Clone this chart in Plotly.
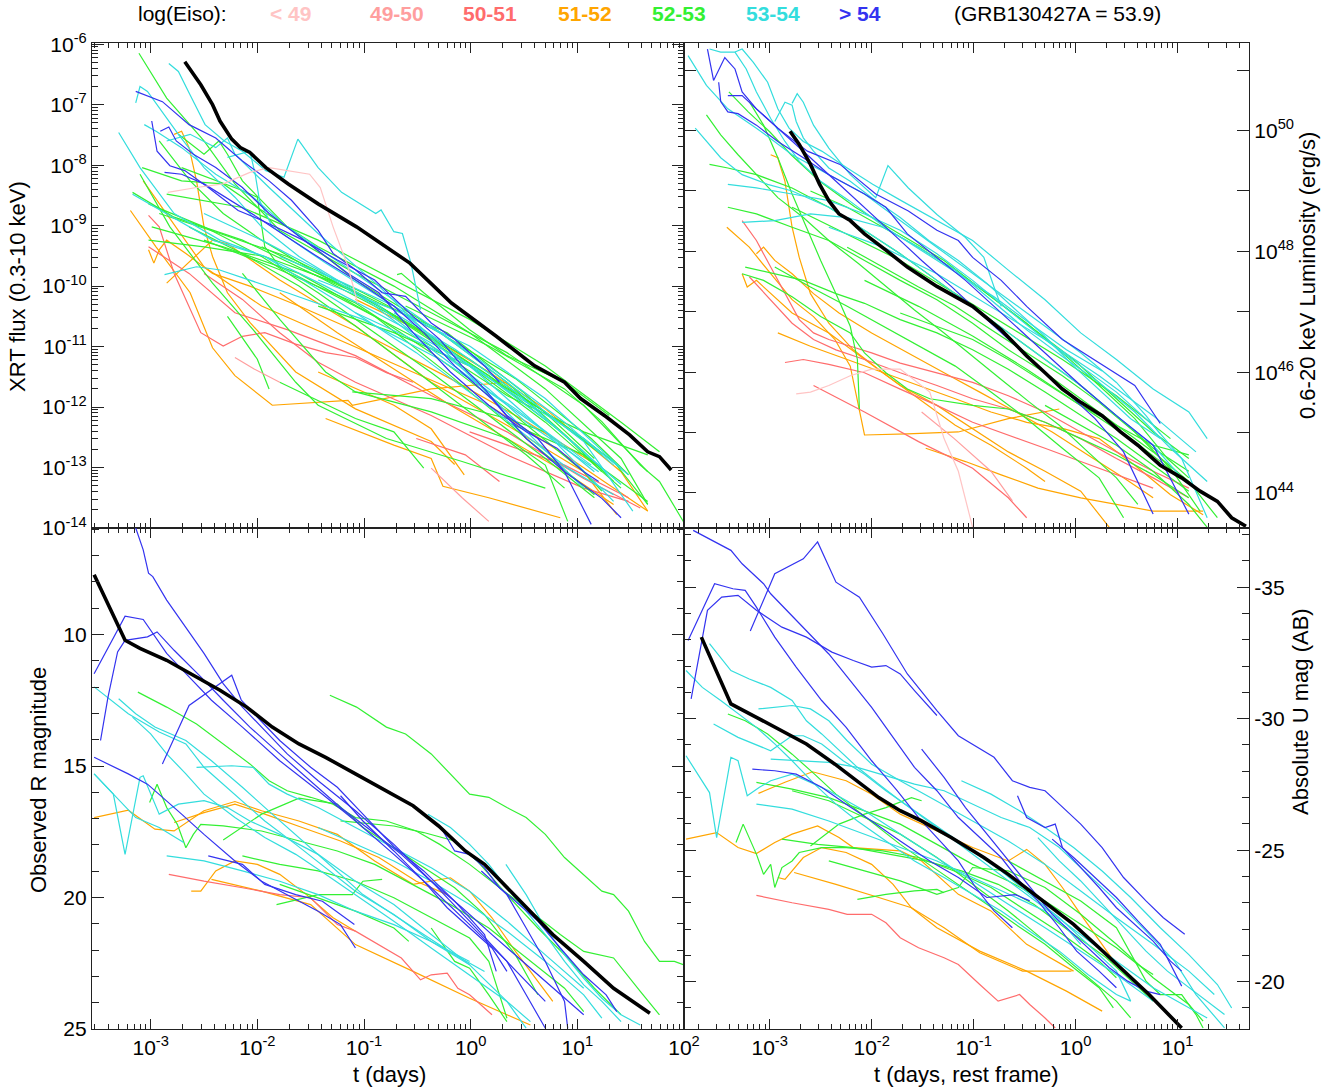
import plotly.graph_objects as go

# ================= DATA (log10 t in days; flux/lum in log10; mags linear) =================
# ---------- Top-left: XRT flux vs observed time ----------
TL_black = ([-2.68,-2.53,-2.42,-2.35,-2.24,-2.16,-2.07,-1.92,-1.71,-1.43,-1.07,-0.57,-0.18,0.24,0.60,0.88,1.03,1.27,1.49,1.66,1.77,1.88],
            [-6.29,-6.67,-7.00,-7.27,-7.57,-7.71,-7.79,-8.04,-8.31,-8.64,-9.02,-9.62,-10.28,-10.83,-11.32,-11.59,-11.86,-12.16,-12.46,-12.74,-12.82,-13.04])
TL_blue = [
 ([-3.14,-2.89,-2.64,-2.39,-2.14,-1.89,-1.68,-1.43,-1.29,-1.08,-0.83,-0.61,-0.37,-0.15,0.13,0.27],
  [-6.78,-6.95,-7.33,-7.55,-7.93,-8.26,-8.58,-9.08,-9.46,-9.73,-10.11,-10.17,-10.61,-10.88,-11.32,-11.59]),
 ([-2.99,-2.94,-2.82,-2.68,-2.46,-2.18,-1.96,-1.57,-1.25,-0.90,-0.54,-0.29,-0.08,0.13,0.34,0.63,0.88,1.13],
  [-7.27,-7.77,-8.01,-8.09,-8.37,-8.75,-8.91,-9.24,-9.57,-9.90,-10.50,-10.88,-11.32,-11.70,-12.14,-12.52,-13.07,-13.94]),
 ([-2.91,-2.83,-2.76,-2.60,-2.39,-2.14,-1.89,-1.64,-1.40,-1.15,-0.86,-0.54,-0.19,0.17,0.52,0.81,1.06,1.20],
  [-7.44,-7.37,-7.60,-7.82,-8.04,-8.37,-8.80,-9.13,-9.46,-9.79,-10.11,-10.77,-11.42,-11.97,-12.41,-12.68,-13.07,-13.23]),
 ([-2.87,-2.71,-2.50,-2.25,-2.00,-1.72,-1.43,-1.08,-0.72,-0.44,-0.15,0.20,0.52,0.88,1.23,1.41],
  [-8.12,-8.15,-8.31,-8.58,-8.86,-9.19,-9.52,-9.90,-10.33,-10.77,-11.32,-11.87,-12.52,-13.07,-13.51,-13.83]),
]
TL_lt49 = [
 ([-2.84,-2.57,-2.32,-2.07,-1.89,-1.71,-1.51,-1.41,-1.29,-1.15,-1.06],
  [-8.45,-8.37,-8.31,-8.12,-8.04,-8.09,-8.15,-8.37,-9.02,-9.68,-10.28]),
]
TL_4950 = [
 ([-2.21,-2.03,-1.79],[-11.18,-11.37,-11.59]),
 ([-0.37,-0.08,0.17],[-13.01,-13.50,-13.89]),
]
TL_5051 = [
 ([-3.02,-2.92,-2.78,-2.64,-2.53,-2.32,-2.14,-1.93,-1.64,-1.36,-1.08,-0.79,-0.54],
  [-8.83,-9.02,-9.79,-10.33,-10.77,-10.99,-10.83,-10.77,-10.96,-11.10,-11.18,-11.43,-11.59]),
 ([-3.02,-2.64,-2.21,-1.72,-1.08,-0.37,0.34,1.06,1.59],
  [-9.35,-9.79,-10.44,-10.72,-11.15,-11.81,-12.41,-13.18,-13.67]),
 ([-2.50,-2.14,-1.79,-1.43,-1.08,-0.37,0.34,1.06,1.48],
  [-9.79,-10.22,-10.77,-11.26,-11.59,-12.14,-12.79,-13.34,-13.56]),
 ([-0.51,-0.05,0.27],[-12.52,-12.79,-13.23]),
 ([-0.01,0.88,1.48],[-12.41,-12.96,-13.50]),
]
TL_5152 = [
 ([-3.19,-2.95,-2.63,-2.42,-2.21,-1.86,-1.15,-1.11,-0.37,0.34],
  [-8.75,-9.35,-10.11,-11.02,-11.48,-11.97,-11.89,-11.97,-11.70,-11.59]),
 ([-3.07,-2.85,-2.50,-1.96,-1.25,-0.54,0.17,0.88,1.66],
  [-8.26,-8.80,-9.68,-10.33,-10.88,-11.42,-11.97,-12.79,-13.72]),
 ([-2.85,-2.56,-2.42,-2.28,-1.79,-1.08,-0.37,0.34,1.06,1.37],
  [-9.95,-9.46,-9.24,-9.30,-9.90,-10.66,-11.59,-12.30,-13.07,-13.78]),
 ([-2.78,-2.71,-2.64,-2.57,-2.50,-2.42,-2.28,-2.07,-1.64,-1.08,-0.37,-0.15],
  [-7.49,-7.44,-7.71,-8.26,-9.02,-9.51,-10.11,-10.60,-11.42,-12.03,-12.57,-12.95]),
 ([-3.02,-2.97,-2.92,-2.85,-2.67,-2.42,-2.07,-1.61,-0.90,-0.19,0.52,1.23],
  [-9.40,-9.62,-9.40,-9.24,-9.46,-9.79,-10.00,-10.33,-10.88,-11.53,-12.24,-13.01]),
 ([-1.36,-0.72,-0.37,-0.26,0.17,0.84],[-12.19,-12.63,-12.85,-13.31,-13.50,-13.83]),
 ([-1.08,-0.44,0.17,0.70,1.41,1.66],[-10.22,-10.77,-11.42,-12.03,-13.07,-13.72]),
 ([-1.43,-0.72,-0.37,-0.06],[-11.42,-11.97,-12.36,-13.12]),
 ([-1.79,-1.25,-0.72,-0.19,0.34,0.88,1.34],[-10.11,-10.77,-11.37,-11.97,-12.52,-13.07,-13.61]),
]
TL_5253 = [
 ([-3.11,-2.85,-2.50,-2.21,-1.79,-1.08,-0.37,0.34,1.06,1.66],[-6.15,-6.89,-7.60,-8.31,-9.08,-9.79,-10.44,-11.10,-11.97,-13.07]),
 ([-0.69,-0.65,-0.44,-0.01,0.34,0.88,1.30],[-9.81,-9.79,-10.11,-10.72,-11.15,-11.59,-12.14]),
 ([-0.61,0.17,0.88,1.23,1.59,1.77,2.01],[-10.33,-10.99,-11.70,-12.24,-12.96,-13.23,-13.94]),
 ([-3.08,-2.71,-2.32,-2.00,-1.43,-0.72,-0.01,0.70,1.41,1.66],[-8.04,-8.26,-8.31,-8.70,-9.35,-10.00,-10.77,-11.70,-12.85,-13.61]),
 ([-3.17,-2.78,-2.14,-1.43,-0.72,-0.01,0.70,1.41],[-8.45,-8.86,-9.24,-9.84,-10.50,-11.32,-12.25,-13.34]),
 ([-3.02,-2.50,-1.93,-1.25,-0.54,0.17,0.88,1.23],[-9.24,-9.35,-9.51,-9.95,-10.66,-11.48,-12.46,-13.07]),
 ([-3.10,-2.82,-2.42,-2.04,-1.64,-1.43,-0.79,-0.08,0.70],[-8.15,-9.02,-9.95,-10.72,-11.59,-11.97,-12.52,-12.90,-13.34]),
 ([-2.28,-2.00,-1.89],[-10.50,-11.21,-11.70]),
 ([-2.85,-2.14,-1.43,-0.72,-0.01,0.70,1.41,1.77],[-8.48,-8.70,-9.24,-9.90,-10.55,-11.32,-12.25,-12.74]),
 ([-2.74,-2.50,-2.36,-2.28,-2.14,-1.72,-1.08,-0.37,0.34,1.06,1.34],[-7.49,-7.82,-7.60,-7.82,-8.26,-9.02,-9.90,-10.66,-11.59,-12.74,-13.23]),
 ([-2.99,-2.32,-1.61,-0.90,-0.19,0.52,1.16],[-9.02,-9.35,-9.79,-10.50,-11.48,-12.52,-13.45]),
 ([-1.79,-1.08,-0.72,-0.44],[-11.59,-12.19,-12.41,-13.01]),
 ([-2.14,-1.79,-1.36,-1.08,-0.37,0.34,0.70,0.91],[-9.79,-10.55,-11.42,-11.75,-12.08,-12.52,-12.96,-13.89]),
 ([-2.71,-2.14,-2.00,-1.93,-1.79,-1.08,-0.37,0.34,1.06,1.66],[-8.04,-8.42,-8.53,-9.35,-9.68,-10.33,-10.99,-11.81,-12.41,-12.79]),
 ([-1.11,-0.37,0.34,0.70],[-11.75,-11.86,-12.19,-12.41]),
 ([0.34,1.06,1.66],[-12.25,-12.79,-13.56]),
 ([-2.50,-1.79,-1.08,-0.37,0.34,1.06,1.23],[-9.24,-9.73,-10.28,-11.10,-12.03,-13.07,-13.39]),
 ([-2.92,-2.35,-1.72,-1.01,-0.29,0.42,1.13,1.48],[-8.80,-9.13,-9.51,-10.11,-10.77,-11.53,-12.52,-13.12]),
 ([-1.43,-0.72,-0.01,0.70,1.34,1.66],[-10.33,-10.77,-11.32,-12.08,-12.90,-13.61]),
 ([-2.92,-2.63,-2.32,-1.96,-1.43,-0.86,-0.22,0.49,1.16],[-7.60,-8.26,-8.80,-9.24,-9.79,-10.28,-10.77,-11.75,-12.85]),
 ([-1.57,-1.08,-0.54,-0.01,0.52,1.06,1.41],[-9.73,-10.11,-10.66,-11.21,-11.87,-12.52,-13.01]),
 ([-1.96,-1.43,-0.90,-0.37,0.17,0.70,1.23],[-9.35,-9.79,-10.28,-10.88,-11.48,-12.08,-12.79]),
 ([-2.64,-2.14,-1.61,-1.08,-0.54,-0.01,0.52,0.88],[-9.02,-9.46,-10.00,-10.66,-11.37,-12.08,-12.79,-13.34]),
 ([-3.02,-2.50,-1.96,-1.43,-0.90,-0.37,0.17,0.70,1.16],[-8.64,-9.02,-9.51,-10.11,-10.77,-11.43,-12.14,-12.85,-13.50]),
]
TL_5354 = [
 ([-2.83,-2.74,-2.63,-2.49,-2.31,-2.14,-1.92,-1.75,-1.62,-1.43,-1.21,-1.04,-0.89,-0.84,-0.72,-0.64,-0.56,-0.47],
  [-6.32,-6.45,-6.84,-7.33,-7.60,-7.77,-8.09,-8.20,-7.57,-8.04,-8.45,-8.64,-8.80,-8.74,-9.10,-9.13,-9.62,-10.39]),
 ([-3.14,-3.10,-3.03,-2.92,-2.74,-2.50,-2.21,-1.96,-1.61,-1.25,-0.86,-0.54,-0.19,0.17,0.52,0.88,1.20],
  [-6.97,-6.70,-6.78,-7.05,-7.49,-8.04,-8.53,-9.02,-9.51,-9.90,-10.33,-10.77,-11.21,-11.70,-12.25,-12.68,-13.07]),
 ([-3.30,-3.10,-2.78,-2.35,-1.93,-1.22,-0.51,0.20,0.91,1.34],[-7.46,-8.04,-8.80,-9.24,-9.51,-10.28,-11.10,-12.03,-13.01,-13.45]),
 ([-3.06,-2.95,-2.71,-2.39,-2.04,-1.72,-1.08,-0.37,0.34,1.06,1.52],[-7.33,-7.44,-7.71,-8.15,-8.53,-9.02,-9.79,-10.66,-11.59,-12.57,-13.72]),
 ([-3.17,-2.85,-2.42,-1.93,-1.36,-0.65,0.06,0.77,1.41],[-8.48,-8.80,-9.24,-9.51,-10.00,-10.66,-11.37,-12.30,-13.28]),
 ([-2.87,-2.57,-2.36,-1.72,-1.01,-0.29,0.42,1.13],[-9.81,-9.68,-9.73,-10.11,-10.55,-11.21,-12.03,-12.96]),
 ([-2.28,-2.07,-2.02,-1.98,-1.86,-1.36,-0.72,-0.01,0.70,1.34],[-7.87,-7.77,-8.15,-8.58,-9.02,-9.62,-10.33,-11.32,-12.41,-13.56]),
 ([-2.85,-2.63,-2.39,-2.28,-2.21,-1.89,-1.43,-0.86,-0.29,0.27,0.84,1.06],[-7.60,-7.49,-7.71,-7.55,-7.82,-8.37,-9.13,-10.00,-10.99,-11.97,-12.96,-13.34]),
 ([-0.72,-0.15,0.42,0.98,1.27],[-10.44,-11.04,-11.75,-12.63,-13.07]),
 ([-1.43,-0.72,-0.01,0.70,1.41],[-9.90,-10.39,-10.99,-11.86,-13.01]),
 ([-1.79,-1.25,-0.72,-0.19,0.34,0.88,1.34],[-9.51,-9.90,-10.33,-10.88,-11.54,-12.25,-12.96]),
 ([-1.08,-0.54,-0.01,0.52,1.06,1.48],[-10.44,-10.88,-11.32,-11.92,-12.52,-13.12]),
 ([-2.50,-1.96,-1.43,-0.90,-0.37,0.17,0.70,1.16],[-8.80,-9.24,-9.73,-10.33,-11.04,-11.75,-12.41,-13.07]),
]

# ---------- Top-right: luminosity vs rest-frame time ----------
TR_black = ([-2.80,-2.71,-2.60,-2.51,-2.42,-2.32,-2.21,-2.07,-1.86,-1.65,-1.36,-1.01,-0.73,-0.48,-0.30,-0.13,0.05,0.26,0.44,0.61,0.83,1.04,1.22,1.39,1.53,1.67],
            [49.99,49.77,49.44,49.11,48.84,48.62,48.51,48.29,48.02,47.74,47.42,47.09,46.70,46.27,45.99,45.72,45.50,45.28,45.01,44.79,44.46,44.25,44.03,43.86,43.59,43.45])
TR_blue = [
 ([-3.61,-3.55,-3.44,-3.34,-3.27,-3.13,-2.92,-2.63,-2.31,-1.96,-1.64,-1.36,-1.15,-1.01,-0.73,-0.48,-0.13,0.23,0.58,0.83],
  [51.35,50.83,51.21,51.02,50.64,50.36,50.04,49.66,49.44,48.95,48.67,48.35,48.18,47.90,47.52,47.09,46.54,46.15,45.78,45.15]),
 ([-3.50,-3.48,-3.41,-3.31,-3.13,-2.92,-2.67,-2.42,-2.07,-1.86,-1.65,-1.36,-1.08,-0.80,-0.52,-0.23,0.05,0.40,0.76,1.11],
  [50.80,50.48,50.31,50.28,50.09,49.82,49.55,49.27,48.95,48.73,48.29,47.90,47.52,47.09,46.65,46.21,45.78,45.28,44.79,43.65]),
 ([-3.41,-3.27,-3.13,-2.95,-2.78,-2.60,-2.35,-2.07,-1.79,-1.51,-1.22,-0.94,-0.66,-0.37,-0.09,0.19,0.47,0.76],
  [50.58,50.58,50.36,50.09,49.82,49.55,49.16,48.73,48.29,47.85,47.42,46.98,46.54,46.10,45.67,45.23,44.68,43.65]),
]
TR_lt49 = [
 ([-2.74,-2.60,-2.42,-2.21,-2.00,-1.72,-1.43,-1.29,-1.15,-1.01],[45.64,45.67,45.78,45.94,46.05,46.05,45.67,44.90,44.36,43.43]),
]
TR_4950 = [
 ([-1.51,-1.19,-0.83,-0.62],[45.34,44.90,44.36,43.87]),
]
TR_5051 = [
 ([-3.27,-3.13,-2.99,-2.85,-2.71,-2.57,-2.42,-2.21,-2.00,-1.72,-1.36,-1.01,-0.66,-0.30,0.05,0.40,0.76,1.11],
  [48.51,48.18,47.74,47.30,46.87,46.65,46.54,46.43,46.32,46.15,45.99,45.83,45.61,45.34,45.01,44.68,44.36,44.08]),
 ([-3.20,-2.99,-2.78,-2.57,-2.35,-2.07,-1.72,-1.36,-1.01,-0.66,-0.30,0.05,0.40,0.76,1.11],
  [47.58,47.20,46.81,46.54,46.37,46.21,45.99,45.78,45.56,45.39,45.17,44.90,44.57,44.25,43.92]),
 ([-2.85,-2.67,-2.42,-2.07,-1.72,-1.36,-1.01,-0.66,-0.30,0.05,0.40,0.76],
  [46.16,46.21,46.13,45.99,45.72,45.45,45.17,44.96,44.74,44.52,44.30,44.08]),
 ([-2.57,-2.07,-1.54,-1.01,-0.66,-0.48],[45.78,45.34,44.85,44.41,43.92,43.59]),
]
TR_5152 = [
 ([-3.42,-3.20,-2.99,-2.78,-2.57,-2.36,-2.21,-2.07,-1.65,-1.15,-0.66,-0.16],
  [48.40,48.07,47.63,47.20,46.92,46.54,46.10,44.96,44.98,45.01,45.23,45.39]),
 ([-2.99,-2.92,-2.85,-2.78,-2.71,-2.60,-2.42,-2.18,-1.89,-1.54,-1.18,-0.83,-0.48,-0.30],
  [49.60,49.55,49.16,48.40,47.90,47.30,46.81,46.37,45.99,45.56,45.12,44.79,44.41,44.19]),
 ([-3.13,-3.06,-2.95,-2.78,-2.57,-2.32,-2.00,-1.65,-1.29,-0.94,-0.59,-0.23,0.12,0.47,0.76],
  [47.96,48.07,47.85,47.63,47.30,46.98,46.65,46.32,45.99,45.67,45.34,45.01,44.63,44.25,43.92]),
 ([-3.27,-3.22,-3.13,-2.99,-2.78,-2.42,-2.07,-1.72,-1.36,-1.01,-0.66,-0.30,0.05,0.33],
  [47.63,47.41,47.52,47.30,46.98,46.65,46.21,45.78,45.45,45.07,44.68,44.36,44.03,43.43]),
 ([-1.47,-1.08,-0.73,-0.37,0.05,0.40,0.76,1.25],[44.74,44.52,44.30,44.08,43.92,43.81,43.70,43.70]),
 ([-2.92,-2.60,-2.24,-1.89,-1.54,-1.18,-0.83,-0.48,-0.13,0.23,0.58,0.93,1.25],
  [46.65,46.43,46.21,45.99,45.78,45.56,45.34,45.17,45.07,44.90,44.46,43.97,43.64]),
]
TR_5253 = [
 ([-3.40,-3.21,-3.00,-2.79,-2.51,-2.16,-1.73,-1.29,-0.87,-0.45,-0.02,0.40,0.76,1.11],
  [50.64,50.31,49.98,49.60,49.16,48.73,48.29,47.85,47.30,46.76,46.21,45.56,45.01,44.57]),
 ([-3.59,-3.41,-3.13,-2.78,-2.42,-2.07,-1.72,-1.36,-1.01,-0.66,-0.30,0.05,0.40,0.76,1.11],
  [49.44,49.38,49.27,49.05,48.73,48.35,47.96,47.52,47.09,46.65,46.21,45.78,45.28,44.74,44.36]),
 ([-3.62,-3.48,-3.31,-3.13,-2.92,-2.67,-2.42,-2.13,-1.85,-1.58,-1.29,-1.01,-0.73,-0.45,-0.16,0.12,0.40,0.61],
  [50.26,49.93,49.60,49.27,48.89,48.56,48.18,47.80,47.41,47.03,46.65,46.26,45.88,45.50,45.12,44.68,44.25,43.81]),
 ([-3.41,-3.13,-2.78,-2.42,-2.07,-1.72,-1.36,-1.01,-0.66,-0.30,0.05,0.40,0.76,1.11,1.39],
  [48.73,48.62,48.40,48.18,47.85,47.52,47.20,46.81,46.37,45.99,45.56,45.12,44.68,44.19,43.59]),
 ([-3.24,-2.95,-2.67,-2.35,-2.07,-1.72,-1.36,-1.01,-0.66,-0.30,0.05,0.40,0.76,1.11],
  [47.74,47.63,47.52,47.30,47.14,46.87,46.65,46.37,46.05,45.67,45.28,44.90,44.46,44.03]),
 ([-3.27,-3.06,-2.78,-2.50,-2.21,-2.07,-1.86,-1.65,-1.43,-1.01,-0.66,-0.30,0.05,0.40,0.76,1.11],
  [47.63,47.52,47.25,46.92,46.65,46.32,45.99,45.72,45.56,45.45,45.39,45.17,44.90,44.63,44.30,43.92]),
 ([-3.20,-3.06,-2.92,-2.78,-2.64,-2.50,-2.35,-2.21,-2.14,-2.12],
  [50.48,50.09,49.55,48.95,48.40,47.85,47.30,46.76,46.21,45.39]),
 ([-1.72,-1.36,-1.01,-0.66,-0.30,0.05,0.40,0.76,1.11],[46.98,46.76,46.54,46.21,45.83,45.45,45.12,44.79,44.63]),
 ([-2.95,-2.60,-2.24,-1.89,-1.54,-1.18,-0.83,-0.48,-0.13,0.23,0.47],[47.74,47.41,47.09,46.76,46.43,46.10,45.67,45.23,44.74,44.25,43.59]),
 ([-2.24,-1.89,-1.54,-1.18,-0.83,-0.48,-0.13,0.23,0.58,0.93,1.22],[48.07,47.74,47.41,47.09,46.70,46.32,45.94,45.50,45.01,44.41,43.70]),
 ([-2.60,-2.24,-1.89,-1.54,-1.18,-0.83,-0.48,-0.13,0.23,0.58,0.90,1.11],[49.00,48.73,48.40,48.07,47.69,47.25,46.81,46.32,45.78,45.23,44.57,44.25]),
 ([-0.30,0.05,0.40,0.76,1.11,1.29],[45.45,45.12,44.79,44.36,43.81,43.43]),
 ([-2.78,-2.25,-1.72,-1.19,-0.66,-0.13,0.40,0.93],[48.73,48.29,47.85,47.31,46.76,46.21,45.61,44.90]),
 ([-2.07,-1.54,-1.01,-0.48,0.05,0.58,1.04],[47.52,47.09,46.60,46.05,45.45,44.85,44.25]),
]
TR_5354 = [
 ([-2.78,-2.73,-2.67,-2.57,-2.42,-2.21,-1.96,-1.84,-1.64,-1.36,-1.08,-0.90,-0.80,-0.73],
  [50.45,50.61,50.47,50.09,49.71,49.27,48.89,49.42,49.05,48.61,48.23,47.90,47.41,47.09]),
 ([-3.59,-3.48,-3.34,-3.23,-3.13,-2.99,-2.85,-2.71,-2.50,-2.22,-1.87,-1.51,-1.15,-0.80,-0.45,-0.09,0.26],
  [51.35,51.30,51.30,51.02,50.64,50.20,49.82,49.49,49.16,48.84,48.40,48.01,47.63,47.25,46.81,46.37,46.02]),
 ([-3.80,-3.62,-3.41,-3.13,-2.78,-2.42,-2.07,-1.72,-1.36,-1.01,-0.66,-0.30,0.05,0.40,0.69,0.83],
  [51.24,50.75,50.36,50.04,49.60,49.27,48.95,48.51,48.07,47.63,47.20,46.76,46.32,45.83,45.28,44.98]),
 ([-3.34,-3.27,-3.16,-3.02,-2.92,-2.81,-2.67,-2.49,-2.24,-1.99,-1.71,-1.36,-1.01,-0.66,-0.30,0.05,0.40,0.76,1.11,1.29],
  [51.30,51.35,51.13,50.80,50.36,50.04,49.82,49.66,49.38,49.11,48.84,48.51,48.18,47.69,47.20,46.65,46.21,45.72,45.34,44.90]),
 ([-3.41,-3.13,-2.78,-2.42,-2.07,-1.72,-1.36,-1.01,-0.66,-0.30,0.05,0.40,0.76,1.04,1.29],
  [49.11,49.05,48.95,48.84,48.62,48.35,47.96,47.52,47.03,46.54,46.10,45.67,45.12,44.57,43.59]),
 ([-3.27,-2.95,-2.60,-2.24,-1.89,-1.54,-1.18,-0.83,-0.48,-0.13,0.23,0.58,0.93,1.29],
  [48.48,48.51,48.62,48.56,48.40,48.07,47.69,47.20,46.70,46.26,45.83,45.34,44.74,44.19]),
 ([-3.73,-3.62,-3.48,-3.27,-3.02,-2.78,-2.42,-2.07,-1.72,-1.36,-1.01,-0.66,-0.30,0.05,0.40,0.76,1.04],
  [50.04,49.82,49.55,49.27,49.11,49.00,48.73,48.35,47.96,47.52,47.09,46.65,46.21,45.78,45.28,44.79,44.25]),
 ([-2.95,-2.85,-2.78,-2.74,-2.67,-2.57,-2.42,-2.21,-2.00,-1.72,-1.44,-1.15,-0.87,-0.59,-0.30,-0.02,0.26,0.54,0.83],
  [50.15,50.47,50.42,50.15,49.88,49.66,49.38,49.16,48.89,48.56,48.18,47.85,47.47,47.03,46.59,46.10,45.67,45.23,44.90]),
 ([-2.42,-1.89,-1.36,-0.83,-0.30,0.23,0.76,1.18],[48.40,48.07,47.63,47.09,46.54,45.94,45.28,44.68]),
]

# ---------- Bottom-left: observed R magnitude vs observed time ----------
BL_black = ([-3.53,-3.39,-3.24,-3.10,-2.85,-2.60,-2.35,-2.10,-1.86,-1.61,-1.36,-1.08,-0.79,-0.54,-0.30,-0.05,0.13,0.34,0.56,0.77,1.06,1.34,1.68],
            [7.73,8.94,10.22,10.53,10.98,11.55,12.12,12.76,13.52,14.16,14.67,15.30,15.94,16.51,17.28,18.23,18.74,19.63,20.52,21.41,22.43,23.45,24.40])
BL_blue = [
 ([-3.14,-3.07,-3.02,-2.98,-2.85,-2.67,-2.50,-2.32,-2.14,-1.96,-1.72,-1.43,-1.08,-0.72,-0.37,-0.01,0.34,0.52,0.70],
  [5.95,6.78,7.67,7.80,8.69,9.71,10.72,11.87,12.76,13.52,14.54,15.56,16.70,17.98,19.38,20.90,22.43,23.70,24.97]),
 ([-3.53,-3.24,-3.07,-2.85,-2.64,-2.43,-2.14,-1.79,-1.43,-1.08,-0.72,-0.37,-0.01,0.34,0.70],
  [11.49,9.30,9.43,10.72,11.61,12.50,13.52,14.80,15.94,17.09,18.36,19.63,21.03,22.43,23.95]),
 ([-3.47,-3.40,-3.31,-3.24,-3.03,-2.94,-2.78,-2.53,-2.32,-2.07,-1.79,-1.51,-1.22,-0.93,-0.65,-0.37,-0.08,0.20,0.49,0.77,1.06],
  [14.03,12.38,10.66,10.22,10.09,9.90,10.60,11.61,12.50,13.52,14.54,15.56,16.58,17.47,18.36,19.38,20.39,21.41,22.43,23.45,24.46]),
 ([-2.89,-2.64,-2.24,-2.15,-1.97,-1.79,-1.50,-1.25,-1.01,-0.72,-0.44,-0.15,0.13,0.24],
  [14.92,12.70,11.55,12.50,13.27,14.03,15.05,15.81,16.83,18.07,18.99,20.14,21.41,22.81]),
 ([-3.53,-3.21,-3.03,-2.85,-2.71,-2.50,-2.21,-1.96,-1.72,-1.43,-1.22,-1.08],
  [14.67,15.30,15.69,16.32,16.83,17.60,18.61,19.38,19.89,20.52,21.03,21.92]),
 ([-2.46,-2.14,-1.93,-1.64,-1.39,-1.09],[18.42,18.74,19.50,19.89,20.14,21.03]),
 ([-1.22,-1.01,-0.72,-0.44,-0.22,-0.01,0.20,0.34],[16.13,17.09,18.23,19.38,20.39,21.16,21.92,22.81]),
 ([-0.26,-0.15,-0.01,0.13,0.27,0.42,0.63,0.84,1.06,1.27,1.37],[17.47,18.23,18.36,18.87,19.63,20.14,20.90,21.92,22.94,23.70,24.34]),
 ([0.10,0.34,0.52,0.70,0.88,0.91],[18.99,19.89,21.16,22.43,23.95,24.97]),
]
BL_5051 = [
 ([-2.83,-2.50,-2.14,-1.79,-1.50,-1.25,-1.08,-0.86,-0.65,-0.47,-0.37,-0.22,-0.12,-0.01,0.20],
  [19.12,19.38,19.63,19.89,20.01,21.03,21.28,21.79,22.30,23.13,22.94,22.88,23.45,23.70,24.46]),
]
BL_5152 = [
 ([-3.53,-3.21,-2.96,-2.78,-2.50,-2.21,-1.96,-1.61,-1.25,-0.90,-0.54,-0.19,-0.01,0.20,0.42,0.77],
  [16.96,16.68,17.40,17.47,16.70,16.35,16.70,17.09,17.60,18.61,19.50,19.25,19.76,20.77,22.05,23.95]),
 ([-2.78,-2.50,-2.21,-1.93,-1.58,-1.22,-0.86,-0.51,-0.22],[17.15,16.77,16.45,16.83,17.34,17.85,18.48,19.38,19.89]),
 ([-2.62,-2.53,-2.39,-2.21,-2.00,-1.79,-1.54,-1.29,-1.08],[19.76,19.76,18.99,18.61,18.74,19.12,19.89,20.77,21.28]),
 ([-2.43,-1.96,-1.50,-1.08,-0.54,-0.01,0.56],[19.31,19.76,20.27,21.79,22.81,23.83,24.85]),
]
BL_5253 = [
 ([-1.32,-1.07,-0.79,-0.61,-0.37,-0.19,-0.01,0.17,0.34,0.52,0.70,0.88,1.06,1.23,1.34,1.48,1.63,1.77,1.91,2.0],
  [12.31,12.76,13.52,13.78,14.54,15.30,16.07,16.19,16.58,16.96,17.60,18.48,19.12,19.76,19.89,20.52,21.67,22.43,22.43,22.56]),
 ([-3.12,-2.85,-2.57,-2.32,-2.07,-1.89,-1.72,-1.50,-1.29,-1.08,-0.79,-0.51,-0.29,-0.01,0.27,0.56,0.84,1.06,1.34,1.59,1.77],
  [12.19,12.76,13.40,14.16,14.92,15.56,15.94,16.19,16.45,16.96,17.09,17.47,17.98,18.74,19.63,20.52,21.41,22.05,22.30,23.57,24.46]),
 ([-3.01,-2.94,-2.85,-2.75,-2.67,-2.60,-2.53,-2.32,-1.96,-1.61,-1.25,-0.90,-0.54,-0.19,0.17,0.52,0.88,1.06],
  [16.39,15.69,16.58,17.22,18.11,17.60,17.22,17.28,17.47,17.85,18.23,18.74,19.50,20.27,21.16,22.30,23.45,24.34]),
 ([-2.32,-1.96,-1.61,-1.25,-1.01,-0.72,-0.44,-0.15,0.13,0.42,0.63],
  [17.81,16.83,16.22,16.45,17.34,18.11,18.87,19.63,20.65,22.18,23.70]),
 ([-2.14,-1.79,-1.43,-1.08,-0.72,-0.37,-0.01,0.17,0.34],[18.42,18.74,18.99,19.38,20.01,20.77,21.54,22.43,24.59]),
 ([-1.82,-1.43,-1.11,-1.01,-0.83],[20.27,19.89,19.89,19.38,19.31]),
 ([-1.22,-0.72,-0.44,-0.15,0.06,0.34,0.63,0.91,1.16,1.41],[17.09,17.28,17.53,17.85,18.61,19.89,21.16,22.30,23.45,24.46]),
 ([-1.79,-1.43,-1.08,-0.72,-0.58],[19.50,20.01,20.52,21.16,21.67]),
 ([-0.37,-0.15,-0.01,0.17,0.34],[21.16,22.43,22.69,23.70,24.72]),
]
BL_5354 = [
 ([-3.53,-3.21,-2.92,-2.67,-2.50,-2.21,-1.93,-1.64,-1.36,-1.08,-0.72,-0.37,-0.01],
  [11.99,13.01,13.71,14.16,15.05,16.07,17.09,17.98,18.87,19.76,20.65,21.67,22.56]),
 ([-3.30,-3.14,-2.96,-2.67,-2.43,-2.14,-1.86,-1.57,-1.29,-1.01,-0.72,-0.44,-0.15,0.13],
  [12.44,13.01,13.52,14.03,14.80,15.81,16.83,17.85,18.87,19.89,20.65,21.41,22.18,22.81]),
 ([-3.17,-3.00,-2.85,-2.67,-2.50,-2.21,-1.93,-1.64,-1.36,-1.08,-0.72,-0.37,-0.01,0.34,0.56],
  [13.14,13.78,14.54,15.30,16.07,16.96,17.72,18.36,19.12,19.89,20.90,21.92,22.94,23.95,24.72]),
 ([-3.53,-3.35,-3.24,-3.10,-3.07,-2.92,-2.74,-2.50,-2.28,-2.07,-1.79,-1.43,-1.08,-0.72,-0.37,-0.01,0.34,0.52],
  [15.30,16.07,18.36,15.43,15.37,16.83,16.45,16.32,16.58,17.09,17.60,18.36,19.38,20.27,21.41,22.56,23.95,24.97]),
 ([-3.53,-3.35,-3.14,-2.92,-2.69],[15.30,16.07,16.96,17.34,17.91]),
 ([-2.57,-2.24,-2.04,-1.89,-1.72,-1.43,-1.08,-0.72,-0.37,-0.01,0.34,0.70,1.06],
  [15.05,14.99,15.05,15.69,16.07,16.58,17.34,18.11,18.87,19.76,20.90,22.18,23.45]),
 ([-2.85,-2.50,-2.14,-1.79,-1.43,-1.08,-0.72,-0.37,-0.01],[18.42,18.61,18.99,19.38,19.89,20.52,21.03,21.67,22.43]),
 ([-0.40,-0.19,-0.01,0.17,0.34,0.52,0.70,0.88,1.06,1.23,1.41],[16.83,17.34,17.98,18.74,19.63,20.52,21.41,22.43,23.32,23.95,24.72]),
 ([0.33,0.52,0.70,0.88,1.06,1.23,1.41,1.59],[18.74,19.89,21.16,22.18,23.07,23.83,24.46,24.85]),
 ([-1.43,-1.08,-0.72,-0.37,-0.01,0.34,0.70,1.06,1.23],[17.34,17.98,18.61,19.38,20.27,21.28,22.43,23.70,24.59]),
]

# ---------- Bottom-right: absolute U magnitude vs rest-frame time ----------
BR_black = ([-3.67,-3.38,-3.13,-2.88,-2.64,-2.36,-2.14,-1.93,-1.72,-1.51,-1.22,-0.90,-0.66,-0.45,-0.23,-0.02,0.23,0.47,0.72,1.04],
            [-33.10,-30.56,-30.05,-29.54,-29.04,-28.27,-27.64,-27.00,-26.50,-26.11,-25.48,-24.72,-24.08,-23.45,-22.81,-22.18,-21.29,-20.40,-19.51,-18.24])
BR_blue = [
 ([-3.75,-3.48,-3.38,-3.27,-3.06,-2.99,-2.85,-2.64,-2.42,-2.21,-2.00,-1.79,-1.58,-1.36,-1.15,-0.94,-0.73,-0.55,-0.37,-0.16,0.01,0.23,0.40],
  [-37.16,-36.59,-36.40,-35.89,-35.13,-34.75,-34.18,-33.35,-32.46,-31.45,-30.43,-29.29,-28.15,-27.26,-26.24,-25.48,-24.72,-23.83,-23.07,-22.05,-21.16,-20.40,-19.77]),
 ([-3.19,-2.95,-2.67,-2.53,-2.35,-2.12,-1.89,-1.65,-1.36,-1.15,-0.80,-0.62,-0.45,-0.30,-0.16,0.05,0.26,0.47,0.69,0.86,1.07],
  [-33.33,-35.51,-36.08,-36.72,-35.19,-34.62,-33.23,-31.70,-30.31,-29.35,-28.53,-27.64,-27.39,-27.26,-26.75,-25.99,-25.10,-23.96,-23.07,-22.43,-21.80]),
 ([-3.80,-3.54,-3.36,-3.24,-3.13,-2.95,-2.74,-2.49,-2.25,-2.00,-1.75,-1.54,-1.36,-1.15,-0.98,-0.80,-0.62],
  [-32.97,-35.13,-34.94,-34.88,-34.24,-33.10,-31.96,-30.69,-29.67,-28.40,-27.26,-26.24,-25.48,-24.59,-23.58,-22.69,-22.05]),
 ([-3.77,-3.61,-3.47,-3.31,-3.13,-2.88,-2.64,-2.39,-2.18,-2.00,-1.86,-1.72,-1.58,-1.36],
  [-30.75,-34.12,-34.62,-34.69,-34.12,-33.48,-33.10,-32.53,-32.21,-31.96,-32.02,-31.70,-31.07,-30.12]),
 ([-0.57,-0.48,-0.30,-0.20,-0.13,0.05,0.23,0.40,0.58,0.76,0.93,1.04],
  [-27.07,-26.24,-25.86,-25.99,-25.10,-24.34,-23.58,-22.81,-22.18,-21.54,-20.78,-20.40]),
 ([-0.23,-0.02,0.19,0.40,0.61,0.83,1.04],[-25.42,-24.72,-23.96,-23.20,-22.31,-21.42,-19.83]),
 ([-1.51,-1.29,-1.08,-0.87,-0.66,-0.45,-0.23,-0.02,0.16,0.33,0.51,0.69,0.83],
  [-28.84,-27.77,-26.62,-25.61,-24.59,-23.58,-22.56,-21.80,-21.16,-20.53,-20.02,-19.64,-19.51]),
 ([-3.17,-2.95,-2.74,-2.49,-2.25,-2.00,-1.72,-1.43,-1.15,-0.87,-0.59,-0.45],
  [-28.08,-28.02,-27.89,-27.39,-26.75,-26.11,-25.35,-24.59,-23.96,-23.20,-23.31,-23.07]),
]
BR_5051 = [
 ([-3.13,-2.78,-2.42,-2.24,-2.00,-1.86,-1.72,-1.54,-1.29,-1.15,-0.94,-0.76,-0.55,-0.45,-0.30,-0.20],
  [-23.28,-23.00,-22.75,-22.56,-22.56,-22.24,-21.67,-21.29,-20.91,-20.65,-19.89,-19.26,-19.51,-19.13,-18.62,-18.24]),
]
BR_5152 = [
 ([-3.82,-3.52,-3.31,-3.13,-2.95,-2.78,-2.53,-2.32,-2.18,-1.72,-1.51,-1.15,-0.83,-0.48,-0.02],
  [-25.42,-25.67,-25.10,-24.87,-25.29,-25.61,-25.92,-25.48,-25.10,-24.97,-24.59,-23.32,-22.69,-21.42,-20.40]),
 ([-3.11,-2.85,-2.58,-2.25,-2.00,-1.72,-1.36,-1.01,-0.66,-0.48,-0.30,-0.13,0.05,0.40],
  [-27.16,-27.58,-27.98,-27.64,-27.13,-26.37,-25.73,-25.10,-24.59,-25.03,-24.46,-23.58,-22.56,-20.65]),
 ([-2.92,-2.85,-2.67,-2.49,-2.25,-2.00,-1.79,-1.61,-1.36,-0.94,-0.48,-0.09,0.26],
  [-23.96,-23.89,-24.72,-25.10,-24.91,-24.46,-23.70,-22.81,-22.05,-21.16,-20.40,-19.64,-18.88]),
 ([-2.76,-2.35,-1.93,-1.61,-1.29,-0.94,-0.52,-0.04],[-24.15,-23.70,-23.20,-22.81,-22.05,-21.10,-20.40,-20.40]),
]
BR_5253 = [
 ([-3.41,-3.24,-3.02,-2.78,-2.56,-2.35,-2.14,-1.93,-1.72,-1.44,-1.15,-0.87,-0.59,-0.30,-0.02,0.23,0.37],
  [-30.18,-29.92,-29.42,-28.65,-27.89,-27.13,-26.50,-25.86,-25.22,-24.46,-23.70,-22.94,-22.18,-21.42,-20.53,-19.77,-19.00]),
 ([-3.33,-3.26,-3.13,-3.06,-2.99,-2.95,-2.88,-2.78,-2.71,-2.49,-2.25,-1.89,-1.54,-1.19,-0.83,-0.48,-0.13,0.23,0.40],
  [-25.29,-25.99,-24.85,-24.08,-24.46,-23.58,-24.34,-24.59,-24.91,-25.10,-25.10,-24.97,-24.72,-24.21,-23.58,-22.69,-21.80,-20.78,-20.15]),
 ([-3.13,-2.78,-2.42,-2.07,-1.72,-1.36,-1.01,-0.66,-0.30,0.05,0.40,0.61,0.76],
  [-27.58,-27.32,-27.00,-26.50,-25.99,-25.22,-24.46,-23.83,-23.07,-22.18,-21.29,-20.65,-20.27]),
 ([-2.60,-2.32,-2.07,-1.86,-1.61,-1.51],[-25.16,-25.99,-26.37,-26.62,-27.00,-26.88]),
 ([-2.88,-2.53,-2.18,-1.82,-1.47,-1.12,-0.76,-0.41,-0.06,0.30,0.58,0.76],
  [-25.42,-25.22,-25.10,-24.85,-24.59,-24.21,-23.70,-22.94,-21.92,-20.91,-19.89,-19.26]),
 ([-2.42,-2.07,-1.72,-1.36,-1.15,-1.01,-0.66,-0.30,0.05,0.40,0.76,1.11,1.25],
  [-24.59,-24.21,-23.83,-23.32,-23.58,-24.34,-24.21,-23.58,-22.56,-21.42,-20.15,-19.13,-18.50]),
 ([-2.14,-1.86,-1.58,-1.36,-1.29],[-23.13,-23.32,-23.45,-23.51,-23.38]),
 ([-2.78,-2.42,-2.07,-1.72,-1.36,-1.01,-0.66,-0.30,0.05,0.40,0.54],
  [-27.26,-26.88,-26.24,-25.61,-24.72,-23.70,-22.69,-21.54,-20.40,-19.26,-18.62]),
 ([-0.66,-0.30,0.05,0.40,0.69,0.83,1.04,1.18,1.25],[-24.59,-23.83,-23.07,-22.05,-20.02,-19.51,-19.51,-18.75,-18.24]),
]
BR_5354 = [
 ([-3.59,-3.38,-3.20,-2.99,-2.78,-2.64,-2.49,-2.35,-2.14,-1.93,-1.72,-1.36,-1.01,-0.66,-0.30,0.05,0.40,0.76,1.11,1.29],
  [-32.85,-31.83,-31.51,-31.19,-30.69,-29.92,-29.42,-28.91,-28.15,-27.51,-26.88,-25.86,-24.85,-23.83,-22.81,-21.80,-20.78,-19.77,-19.00,-18.62]),
 ([-3.82,-3.66,-3.48,-3.31,-3.13,-2.95,-2.78,-2.56,-2.35,-2.14,-1.86,-1.58,-1.29,-1.01,-0.73,-0.45,-0.16,0.12,0.40,0.54],
  [-31.83,-31.19,-30.69,-30.18,-29.67,-29.04,-28.40,-27.51,-26.75,-26.11,-25.35,-24.59,-23.96,-23.32,-22.69,-21.92,-21.16,-20.27,-19.51,-19.26]),
 ([-3.82,-3.59,-3.52,-3.38,-3.31,-3.22,-3.10,-2.99,-2.78,-2.42,-2.07,-1.72,-1.36,-1.01,-0.66,-0.30,0.05,0.40,0.76],
  [-28.59,-27.19,-25.48,-28.53,-28.40,-27.07,-27.39,-27.64,-27.89,-27.26,-26.50,-25.61,-24.72,-23.83,-22.94,-22.05,-21.16,-20.27,-19.26]),
 ([-3.11,-2.78,-2.60,-2.42,-2.24,-2.00,-1.72,-1.36,-1.01,-0.66,-0.30,0.05,0.40,0.76,1.11,1.36],
  [-30.37,-30.50,-30.37,-29.92,-29.16,-28.27,-27.64,-26.88,-26.11,-25.35,-24.46,-23.45,-22.43,-21.42,-20.40,-19.51]),
 ([-3.55,-3.31,-2.99,-2.78,-2.67,-2.49,-2.28,-2.07,-1.86,-1.58,-1.29,-1.01,-0.73,-0.45,-0.16,0.12,0.40,0.54],
  [-29.80,-29.29,-28.78,-29.35,-29.35,-29.04,-28.40,-27.89,-27.26,-26.50,-25.73,-24.97,-24.21,-23.32,-22.43,-21.42,-20.40,-19.26]),
 ([-2.99,-2.71,-2.42,-2.14,-1.86,-1.58,-1.29,-1.01,-0.73,-0.45,-0.16,0.12,0.40,0.69,0.97,1.18,1.46],
  [-28.46,-28.40,-28.34,-28.15,-27.83,-27.51,-27.26,-26.75,-26.24,-25.86,-25.10,-24.08,-23.07,-21.92,-20.78,-19.51,-18.24]),
 ([-3.13,-2.78,-2.42,-2.07,-1.72,-1.36,-1.01,-0.66,-0.30,-0.09,0.05],
  [-26.75,-26.56,-26.11,-25.61,-25.10,-24.59,-23.96,-23.32,-22.69,-22.05,-21.42]),
 ([-1.12,-0.83,-0.55,-0.30,-0.02,0.26,0.54,0.83,1.11,1.39,1.53],
  [-27.64,-27.13,-26.50,-25.86,-25.10,-24.21,-23.20,-22.05,-21.03,-19.89,-19.00]),
 ([-0.37,-0.16,0.05,0.26,0.47,0.69,0.90,1.11,1.29,1.46],
  [-25.48,-24.59,-23.83,-22.94,-22.05,-21.16,-20.40,-19.77,-19.26,-18.75]),
]

# ---------- legend / labels ----------
CLASS_LABELS = ["< 49", "49-50", "50-51", "51-52", "52-53", "53-54", "> 54"]
CLASS_COLORS = ["#FFC4C4", "#FF9E9E", "#FF6C6C", "#FFA500", "#33F033", "#33DDDD", "#3333F0"]
XTICK_LEFT = [-3, -2, -1, 0, 1, 2]
XTICK_RIGHT = [-3, -2, -1, 0, 1]
YTICK_FLUX = [-14, -13, -12, -11, -10, -9, -8, -7, -6]
YTICK_LUM = [44, 45, 46, 47, 48, 49, 50, 51]
YTICK_RMAG = [10, 15, 20, 25]
YTICK_UMAG = [-35, -30, -25, -20]

# ================= FIGURE =================
FONT = "Liberation Sans, Arial, sans-serif"
fig = go.Figure()


def add_group(curves, color, xa, ya, logy, width=1.2):
    xs, ys = [], []
    for cx, cy in curves:
        xs += [10.0 ** v for v in cx] + [None]
        ys += ([10.0 ** v for v in cy] if logy else list(cy)) + [None]
    fig.add_trace(go.Scatter(x=xs, y=ys, mode="lines", xaxis=xa, yaxis=ya,
                             line=dict(color=color, width=width), hoverinfo="skip",
                             showlegend=False, connectgaps=False))


c_lt49, c_4950, c_5051, c_5152, c_5253, c_5354, c_gt54 = CLASS_COLORS
panels = [
    ("x", "y", True, [(TL_5152, c_5152), (TL_5051, c_5051), (TL_5253, c_5253), (TL_5354, c_5354),
                      (TL_blue, c_gt54), (TL_4950, c_4950), (TL_lt49, c_lt49)], TL_black),
    ("x2", "y2", True, [(TR_5152, c_5152), (TR_5051, c_5051), (TR_5253, c_5253), (TR_5354, c_5354),
                        (TR_blue, c_gt54), (TR_4950, c_4950), (TR_lt49, c_lt49)], TR_black),
    ("x3", "y3", False, [(BL_5152, c_5152), (BL_5051, c_5051), (BL_5253, c_5253), (BL_5354, c_5354),
                         (BL_blue, c_gt54)], BL_black),
    ("x4", "y4", False, [(BR_5152, c_5152), (BR_5051, c_5051), (BR_5253, c_5253), (BR_5354, c_5354),
                         (BR_blue, c_gt54)], BR_black),
]
for xa, ya, logy, groups, black in panels:
    for curves, col in groups:
        add_group(curves, col, xa, ya, logy)
    add_group([black], "black", xa, ya, logy, width=3.6)

W, H = 1340, 1088
ML, MR, MT, MB = 92, 91, 43, 59
PW, PH = W - ML - MR, H - MT - MB          # plot area 1157 x 986
XSPLIT = (684 - ML) / PW
YSPLIT = (1029 - 528) / PH

def sup(v):
    return "10<sup>%d</sup>" % v

tickfont = dict(family=FONT, size=21, color="black")
base = dict(showgrid=False, zeroline=False, showline=True, linecolor="#222222", linewidth=1.2,
            ticks="inside", tickcolor="#222222", tickwidth=1.2, mirror="ticks", tickfont=tickfont)
xminor = dict(ticks="inside", ticklen=5, dtick="D1", tickcolor="#222222", tickwidth=1)
magminor = dict(ticks="inside", ticklen=7, tickmode="linear", tick0=0, dtick=1, tickcolor="#222222", tickwidth=1)

fig.update_layout(
    width=W, height=H,
    margin=dict(l=ML, r=MR, t=MT, b=MB),
    paper_bgcolor="white", plot_bgcolor="white",
    font=dict(family=FONT, size=21, color="black"),
    xaxis=dict(base, domain=[0, XSPLIT], anchor="y", type="log", range=[-3.55, 2.0],
               tickmode="array", tickvals=[10.0 ** v for v in XTICK_LEFT], ticklen=10,
               showticklabels=False, minor=xminor),
    yaxis=dict(base, domain=[YSPLIT, 1], anchor="x", type="log", range=[-14.0, -5.98],
               tickmode="array", tickvals=[10.0 ** v for v in YTICK_FLUX],
               ticktext=[sup(v) for v in YTICK_FLUX], ticklen=12,
               minor=dict(ticks="inside", ticklen=6, dtick="D1", tickcolor="#222222", tickwidth=1)),
    xaxis2=dict(base, domain=[XSPLIT, 1], anchor="y2", type="log", range=[-3.84, 1.70],
                tickmode="array", tickvals=[10.0 ** v for v in XTICK_RIGHT], ticklen=10,
                showticklabels=False, minor=xminor),
    yaxis2=dict(base, domain=[YSPLIT, 1], anchor="x2", type="log", range=[43.42, 51.45], side="right",
                tickmode="array", tickvals=[10.0 ** v for v in YTICK_LUM],
                ticktext=[sup(v) if v % 2 == 0 else " " for v in YTICK_LUM], ticklen=12),
    xaxis3=dict(base, domain=[0, XSPLIT], anchor="y3", type="log", range=[-3.55, 2.0],
                tickmode="array", tickvals=[10.0 ** v for v in XTICK_LEFT],
                ticktext=[sup(v) for v in XTICK_LEFT], ticklen=10, minor=xminor),
    yaxis3=dict(base, domain=[0, YSPLIT], anchor="x3", range=[25.0, 5.95],
                tickmode="array", tickvals=YTICK_RMAG, ticktext=[str(v) for v in YTICK_RMAG],
                ticklen=12, minor=magminor),
    xaxis4=dict(base, domain=[XSPLIT, 1], anchor="y4", type="log", range=[-3.84, 1.70],
                tickmode="array", tickvals=[10.0 ** v for v in XTICK_RIGHT],
                ticktext=[sup(v) for v in XTICK_RIGHT], ticklen=10, minor=xminor),
    yaxis4=dict(base, domain=[0, YSPLIT], anchor="x4", range=[-18.2, -37.25], side="right",
                tickmode="array", tickvals=YTICK_UMAG, ticktext=[str(v) for v in YTICK_UMAG],
                ticklen=12, minor=magminor),
)

# positions given in window pixels, converted to paper fractions of the plot area
def px_x(px):
    return (px - ML) / PW

def px_y(py):
    return (H - MB - py) / PH

ann = []
ann.append(dict(text="log(Eiso):", x=px_x(182), y=px_y(13), font=dict(size=21, color="black")))
for lab, col, cx in zip(CLASS_LABELS, CLASS_COLORS, [290, 397, 490, 585, 679, 773, 860]):
    ann.append(dict(text="<b>%s</b>" % lab, x=px_x(cx), y=px_y(13), font=dict(size=21, color=col)))
ann.append(dict(text="(GRB130427A = 53.9)", x=px_x(1057), y=px_y(13), font=dict(size=21, color="black")))
ann.append(dict(text="XRT flux (0.3-10 keV)", x=px_x(17), y=px_y(287), textangle=-90, font=dict(size=22)))
ann.append(dict(text="0.6-20 keV Luminosity (erg/s)", x=px_x(1307), y=px_y(276), textangle=-90, font=dict(size=22)))
ann.append(dict(text="Observed R magnitude", x=px_x(38), y=px_y(780), textangle=-90, font=dict(size=22)))
ann.append(dict(text="Absolute U mag (AB)", x=px_x(1300), y=px_y(712), textangle=-90, font=dict(size=22)))
ann.append(dict(text="t (days)", x=px_x(389), y=px_y(1074), font=dict(size=22)))
ann.append(dict(text="t (days, rest frame)", x=px_x(966), y=px_y(1074), font=dict(size=22)))
for a in ann:
    a.update(xref="paper", yref="paper", showarrow=False, xanchor="center", yanchor="middle")
    a["font"] = dict(family=FONT, color=a["font"].get("color", "black"), size=a["font"]["size"])
fig.update_layout(annotations=ann)

fig.write_html("out.html", config={"displayModeBar": False},
               post_script="document.body.style.margin='0px';document.body.style.overflow='hidden';")
